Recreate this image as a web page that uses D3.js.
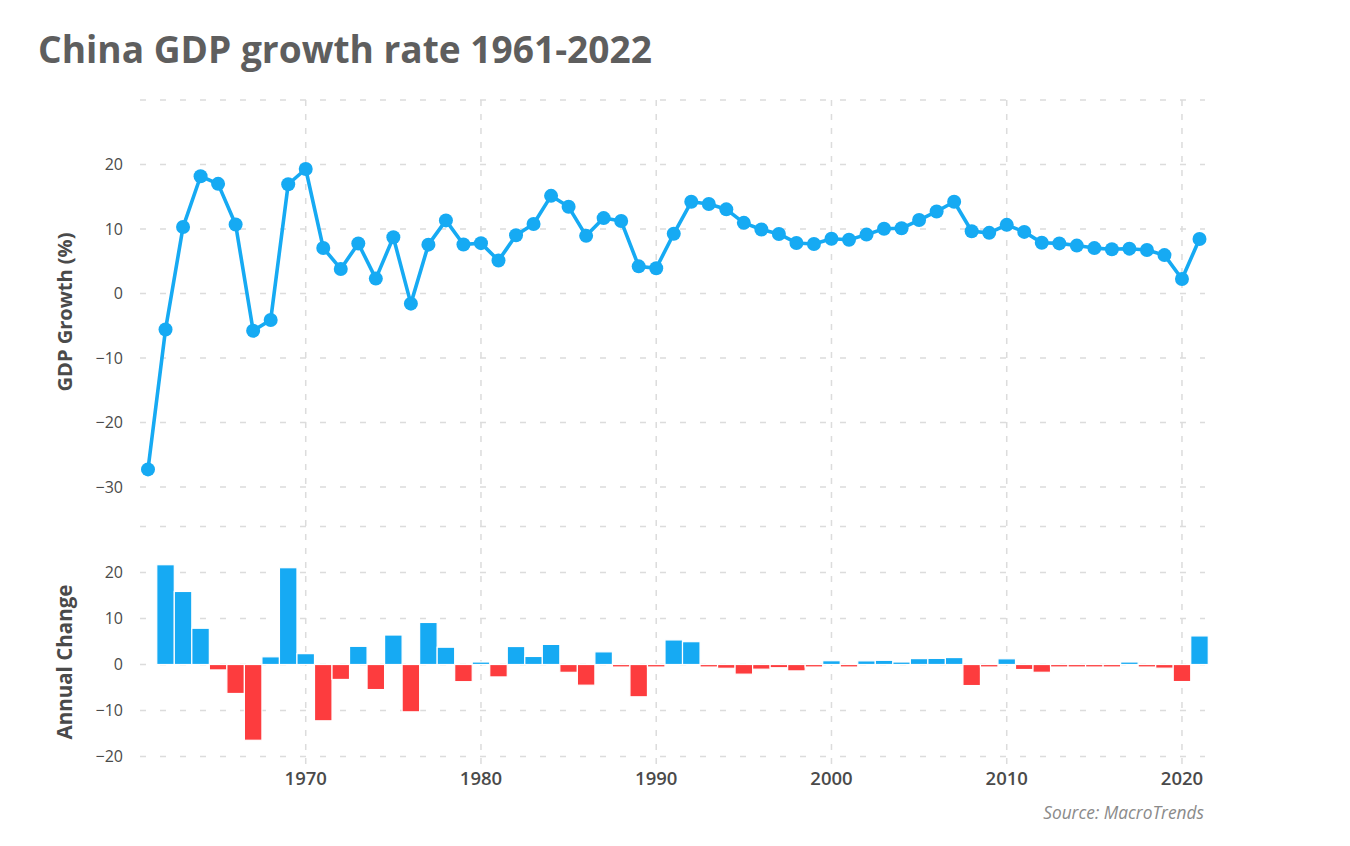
<!DOCTYPE html>
<html><head><meta charset="utf-8">
<script src="https://cdn.jsdelivr.net/npm/d3@7"></script>
<style>
body{margin:0;background:#fff;}
svg{display:block;font-family:"Open Sans","Noto Sans",sans-serif;}
</style></head>
<body><svg id="c" width="1350" height="846"></svg>
<script>
const years = d3.range(1961, 2022);
const gdpGrowth = [-27.27,-5.58,10.30,18.18,17.00,10.70,-5.77,-4.10,16.94,19.30,
  7.06,3.81,7.76,2.31,8.72,-1.57,7.57,11.33,7.60,7.81,
  5.11,9.02,10.77,15.14,13.44,8.94,11.69,11.23,4.21,3.92,
  9.26,14.22,13.87,13.05,10.95,9.93,9.23,7.84,7.67,8.49,
  8.34,9.13,10.04,10.11,11.39,12.72,14.23,9.65,9.40,10.64,
  9.55,7.86,7.77,7.43,7.04,6.85,6.95,6.75,5.95,2.24,8.45];
const changeYears = d3.range(1962, 2022);
const annualChange = [21.69,15.88,7.88,-1.18,-6.30,-16.47,1.67,21.04,2.36,
  -12.24,-3.25,3.95,-5.45,6.41,-10.29,9.14,3.76,-3.73,0.21,
  -2.70,3.91,1.75,4.37,-1.70,-4.50,2.75,-0.46,-7.02,-0.29,
  5.34,4.96,-0.35,-0.82,-2.10,-1.02,-0.70,-1.39,-0.17,0.82,
  -0.15,0.79,0.91,0.07,1.28,1.33,1.51,-4.58,-0.25,1.24,
  -1.09,-1.69,-0.09,-0.34,-0.39,-0.19,0.10,-0.20,-0.80,-3.71,6.21];
const xTicks = [1970,1980,1990,2000,2010,2020];
const topTicks = [-30,-20,-10,0,10,20];
const topGrid = [-30,-20,-10,0,10,20,30];
const botTicks = [-20,-10,0,10,20];
const botGrid = [-20,-10,0,10,20,30];

const svg = d3.select("#c");
const blue = "#16aaf3", red = "#fd3c3e", txt = "#4a4a4a", grid = "#dcdcdc";
const x = d3.scaleLinear().domain([1961, 2021]).range([148, 1199.5]);
const gridL = 140, gridR = 1205;
const yT = d3.scaleLinear().domain([-30, 30]).range([487, 100]);
const yB = d3.scaleLinear().domain([-20, 30]).range([756.5, 526.5]);

function fit(sel, target, base) {
  const w = sel.node().getComputedTextLength();
  sel.attr("font-size", base * target / w);
}

// title
const title = svg.append("text").attr("x", 38).attr("y", 63)
  .attr("font-size", 32).attr("font-weight", 700).attr("fill", "#5e5e5e")
  .text("China GDP growth rate 1961-2022");
fit(title, 614, 32);

// vertical grid
svg.append("g").selectAll("line").data(xTicks).join("line")
  .attr("x1", d => x(d)).attr("x2", d => x(d)).attr("y1", 100).attr("y2", 765)
  .attr("stroke", grid).attr("stroke-width", 1.5).attr("stroke-dasharray", "6,8");

// horizontal grids
svg.append("g").selectAll("line").data(topGrid).join("line")
  .attr("x1", gridL).attr("x2", gridR).attr("y1", d => yT(d)).attr("y2", d => yT(d))
  .attr("stroke", grid).attr("stroke-width", 1.5).attr("stroke-dasharray", "6,14");
svg.append("g").selectAll("line").data(botGrid).join("line")
  .attr("x1", gridL).attr("x2", gridR).attr("y1", d => yB(d)).attr("y2", d => yB(d))
  .attr("stroke", grid).attr("stroke-width", 1.5).attr("stroke-dasharray", "6,14");

// y tick labels
const fmt = d => d < 0 ? "\u2212" + Math.abs(d) : d;
svg.append("g").selectAll("text").data(topTicks).join("text")
  .attr("x", 123).attr("y", d => yT(d)).attr("dy", "0.35em").attr("text-anchor", "end")
  .attr("font-size", 16).attr("fill", txt).text(fmt);
svg.append("g").selectAll("text").data(botTicks).join("text")
  .attr("x", 123).attr("y", d => yB(d)).attr("dy", "0.35em").attr("text-anchor", "end")
  .attr("font-size", 16).attr("fill", txt).text(fmt);

// x tick labels
svg.append("g").selectAll("text").data(xTicks).join("text")
  .attr("x", d => x(d)).attr("y", 785).attr("text-anchor", "middle")
  .attr("font-size", 18.5).attr("font-weight", 600).attr("fill", txt).text(d => d);

// axis titles
const t1 = svg.append("text").attr("transform", "translate(72,312) rotate(-90)")
  .attr("text-anchor", "middle").attr("font-size", 18).attr("font-weight", 700)
  .attr("fill", txt).text("GDP Growth (%)");
fit(t1, 159, 18);
const t2 = svg.append("text").attr("transform", "translate(72,662) rotate(-90)")
  .attr("text-anchor", "middle").attr("font-size", 18).attr("font-weight", 700)
  .attr("fill", txt).text("Annual Change");
fit(t2, 155, 18);

// bars
const bw = 17.52;
svg.append("g").selectAll("rect").data(changeYears.map((yr, i) => ({yr, v: annualChange[i]})))
  .join("rect")
  .attr("x", d => x(d.yr) - bw / 2)
  .attr("width", bw)
  .attr("y", d => d.v >= 0 ? Math.min(yB(d.v), yB(0) - 2.5) : yB(0))
  .attr("height", d => Math.max(Math.abs(yB(d.v) - yB(0)), 2.5))
  .attr("fill", d => d.v >= 0 ? blue : red)
  .attr("stroke", "#fff").attr("stroke-width", 1.2);

// line
svg.append("path").datum(years.map((yr, i) => [yr, gdpGrowth[i]]))
  .attr("d", d3.line().x(d => x(d[0])).y(d => yT(d[1])))
  .attr("fill", "none").attr("stroke", blue).attr("stroke-width", 3.6).attr("stroke-linejoin", "round");
svg.append("g").selectAll("circle").data(years.map((yr, i) => [yr, gdpGrowth[i]])).join("circle")
  .attr("cx", d => x(d[0])).attr("cy", d => yT(d[1])).attr("r", 7).attr("fill", blue);

// source
const src = svg.append("text").attr("x", 1204).attr("y", 819).attr("text-anchor", "end")
  .attr("font-size", 15).attr("font-style", "italic").attr("fill", "#8a8a8a")
  .text("Source: MacroTrends");
fit(src, 161, 15);
</script></body></html>
